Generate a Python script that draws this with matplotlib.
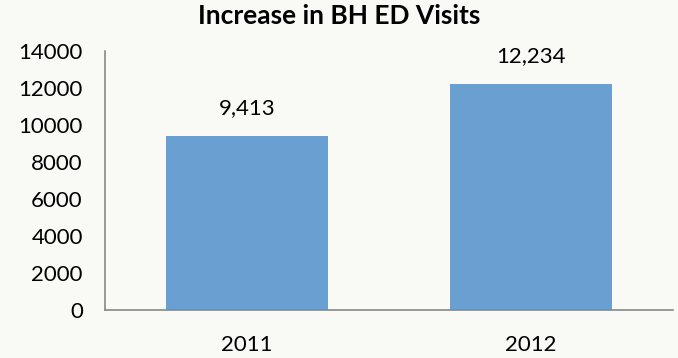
import matplotlib.pyplot as plt

# data
years = ['2011', '2012']
visits = [9413, 12234]
y_ticks = [0, 2000, 4000, 6000, 8000, 10000, 12000, 14000]

plt.rcParams['font.family'] = ['Lato', 'DejaVu Sans']

bg = '#f9f9f6'
fig = plt.figure(figsize=(6.78, 3.58), dpi=100, facecolor=bg)
ax = fig.add_axes([0.155, 0.134, 0.838, 0.723], facecolor=bg)

x = range(len(years))
bars = ax.bar(x, visits, width=0.57, color='#6a9fd2')

for xi, v in zip(x, visits):
    ax.annotate(f'{v:,}', (xi, v), xytext=(0, 13), textcoords='offset points',
                ha='center', va='bottom', fontsize=16)

ax.set_xlim(-0.5, 1.5)
ax.set_ylim(0, 14000)
ax.set_yticks(y_ticks)
ax.set_xticks(list(x))
ax.set_xticklabels(years)
ax.tick_params(length=0, labelsize=16, colors='black')
ax.tick_params(axis='y', pad=16)
ax.tick_params(axis='x', pad=18)

for s in ['top', 'right']:
    ax.spines[s].set_visible(False)
for s in ['left', 'bottom']:
    ax.spines[s].set_color('#888888')
    ax.spines[s].set_linewidth(1.2)

fig.suptitle('Increase in BH ED Visits', fontsize=19, fontweight='bold', y=0.99)

fig.savefig('out.png', dpi=100, facecolor=bg)
